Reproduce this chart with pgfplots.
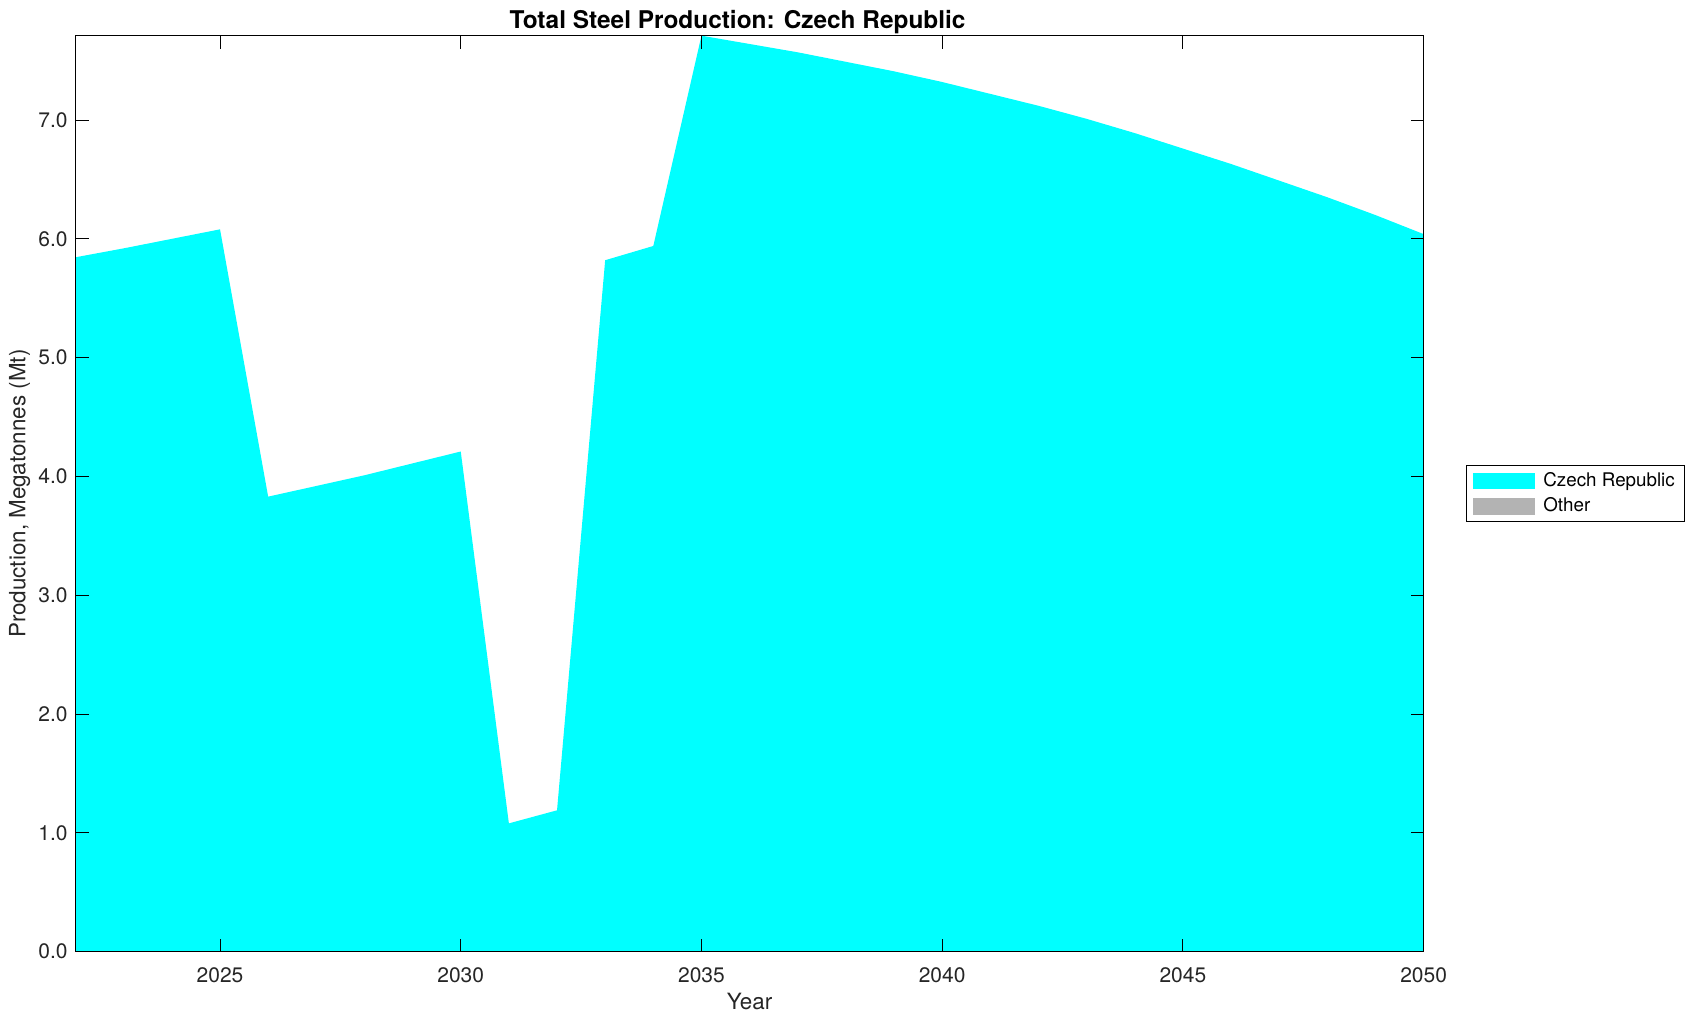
\documentclass[border=0pt]{standalone}
\usepackage{fontspec}
\setmainfont{TeX Gyre Heros}
\usepackage{pgfplots}
\pgfplotsset{compat=1.18}
\definecolor{mcyan}{RGB}{0,255,255}
\definecolor{mgray}{RGB}{179,179,179}
\begin{document}
\begin{tikzpicture}
\begin{axis}[
  scale only axis,
  width=674pt, height=458pt,
  xmin=2022, xmax=2050, ymin=0, ymax=7.71,
  axis on top,
  xtick={2025,2030,2035,2040,2045,2050},
  ytick={0,1,2,3,4,5,6,7},
  tick align=inside,
  major tick length=6.5pt,
  tick style={black, line width=0.5pt},
  axis line style={black, line width=0.6pt},
  /pgf/number format/assume math mode=true,
  xticklabel style={/pgf/number format/1000 sep={}, font=\fontsize{10.5}{12}\selectfont, yshift=-4.5pt, text=black!85},
  yticklabel style={/pgf/number format/.cd, fixed, fixed zerofill, precision=1, /tikz/.cd, font=\fontsize{10.5}{12}\selectfont, xshift=-0.5pt, text=black!85},
  title={Total Steel Production: Czech Republic},
  title style={at={(axis description cs:0.5,1)}, anchor=base, yshift=-2.5pt, xshift=-6pt, font=\bfseries\fontsize{12.2}{14}\selectfont},
  xlabel={Year},
  ylabel={Production, Megatonnes (Mt)},
  every axis x label/.style={at={(axis description cs:0.5,-0.0546)}, anchor=center, font=\fontsize{11.2}{13}\selectfont, text=black!85},
  every axis y label/.style={at={(axis description cs:-0.0415,0.5)}, rotate=90, anchor=center, font=\fontsize{11.2}{13}\selectfont, text=black!85},
  legend style={at={(axis description cs:1.0315,0.5)}, anchor=west, draw=black, line width=0.5pt, font=\fontsize{9.4}{11}\selectfont, inner xsep=3pt, inner ysep=1.5pt, row sep=0pt, legend cell align=left},
  legend image code/.code={\fill[#1, draw=none] (0pt,-4.15pt) rectangle (31.4pt,4.15pt); \path (33.4pt,0pt);},
]
\addplot[fill=mcyan, draw=none] coordinates {
(2022,5.845) (2023,5.92) (2024,6.0) (2025,6.08)
(2026,3.83) (2027,3.92) (2028,4.01) (2029,4.11) (2030,4.21)
(2031,1.08) (2032,1.19) (2033,5.82) (2034,5.94) (2035,7.71)
(2036,7.64) (2037,7.57) (2038,7.49) (2039,7.41) (2040,7.32)
(2041,7.22) (2042,7.12) (2043,7.01) (2044,6.89) (2045,6.76)
(2046,6.63) (2047,6.49) (2048,6.35) (2049,6.20) (2050,6.04)
} \closedcycle;
\addlegendentry{Czech Republic}
\addlegendimage{fill=mgray, draw=none}
\addlegendentry{Other}
\end{axis}
\pgfresetboundingbox
\path (-37.8pt,-34.5pt) rectangle (809.2pt,475.85pt);
\end{tikzpicture}
\end{document}
